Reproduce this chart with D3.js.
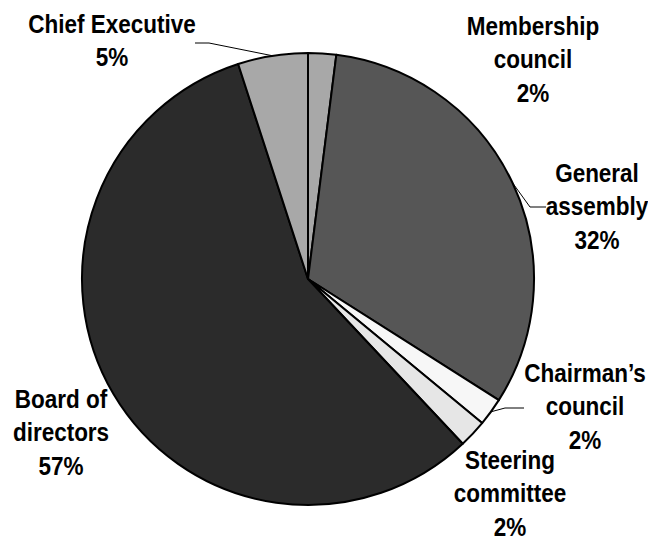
<!DOCTYPE html>
<html>
<head>
<meta charset="utf-8">
<script src="https://cdn.jsdelivr.net/npm/d3@7"></script>
<style>
  html, body { margin: 0; padding: 0; background: #fff; }
  svg { display: block; }
  text { font-family: "Liberation Sans", Arial, sans-serif; font-weight: bold; font-size: 25px; fill: #000; }
</style>
</head>
<body>
<script>
// Share of decisions by governance body, clockwise from 12 o'clock
const categories = ["Membership council", "General assembly", "Chairman\u2019s council", "Steering committee", "Board of directors", "Chief Executive"];
const values = [2, 32, 2, 2, 57, 5];
const colors = ["#a8a8a8", "#565656", "#f7f7f7", "#e6e6e6", "#2b2b2b", "#a8a8a8"];
// label lines (name split over lines) and where each label block sits
const labelLines = [["Membership", "council"], ["General", "assembly"], ["Chairman\u2019s", "council"], ["Steering", "committee"], ["Board of", "directors"], ["Chief Executive"]];
const labelPos = [[533, 35], [597, 182], [585, 382], [510, 469], [61, 408], [112, 33]];
// leader lines: elbow point and end of horizontal stub (null = no leader)
const leaders = [null, [[530, 207], [546, 207]], [[505, 408], [524, 408]], null, null, [[209, 43], [195, 43]]];

const W = 648, H = 538;
const cx = 308, cy = 279, R = 226;
const lineH = 33.5;
const narrow = 0.9; // condensed label face

const svg = d3.select("body").append("svg").attr("width", W).attr("height", H);
const g = svg.append("g").attr("transform", `translate(${cx},${cy})`);

const pie = d3.pie().sort(null).value(d => d.v);
const data = pie(categories.map((c, i) => ({ c, v: values[i], i })));
const arc = d3.arc().innerRadius(0).outerRadius(R);

g.selectAll("path.slice")
  .data(data)
  .join("path")
  .attr("class", "slice")
  .attr("d", arc)
  .attr("fill", d => colors[d.data.i])
  .attr("stroke", "#000")
  .attr("stroke-width", 2)
  .attr("stroke-linejoin", "round");

// leader lines from the rim at each slice's mid-angle
data.forEach(d => {
  const L = leaders[d.data.i];
  if (!L) return;
  const a = (d.startAngle + d.endAngle) / 2;
  const ex = cx + R * Math.sin(a), ey = cy - R * Math.cos(a);
  svg.append("polyline")
    .attr("points", [[ex, ey], L[0], L[1]].map(p => p.join(",")).join(" "))
    .attr("fill", "none")
    .attr("stroke", "#000")
    .attr("stroke-width", 1);
});

// labels: name lines followed by the rounded percentage
data.forEach(d => {
  const i = d.data.i;
  const lines = labelLines[i].concat([d3.format(".0f")(d.data.v) + "%"]);
  const [x, y] = labelPos[i];
  const t = svg.append("text")
    .attr("text-anchor", "middle")
    .attr("transform", `translate(${x},${y}) scale(${narrow},1)`);
  lines.forEach((s, k) => {
    t.append("tspan").attr("x", 0).attr("y", k * lineH).text(s);
  });
});
</script>
</body>
</html>
